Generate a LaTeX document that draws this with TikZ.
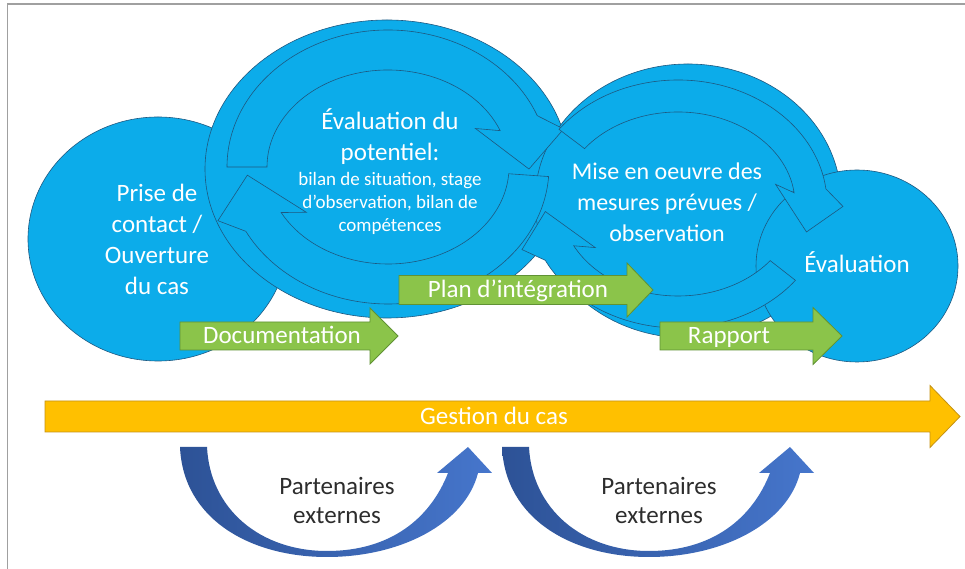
\documentclass[tikz,border=0pt]{standalone}
\usepackage{fontspec}
\setmainfont{Carlito}
\usetikzlibrary{calc}

\definecolor{cyanfill}{RGB}{12,172,234}
\definecolor{cyanline}{RGB}{30,88,128}
\definecolor{leaf}{RGB}{139,196,74}
\definecolor{leafline}{RGB}{96,146,52}
\definecolor{amber}{RGB}{255,192,0}
\definecolor{amberline}{RGB}{196,146,20}
\definecolor{navyA}{RGB}{45,82,150}
\definecolor{navyB}{RGB}{70,118,204}
\definecolor{framegray}{RGB}{160,160,160}
\definecolor{inkgray}{RGB}{45,45,45}

% ring arrow: cx, cy, rx, ry, half width, start angle, head base angle, tip angle, head skew
\newcommand{\ringarrow}[9]{%
  \pgfmathsetmacro\rxo{#3+#5}\pgfmathsetmacro\ryo{#4+#5}
  \pgfmathsetmacro\rxi{#3-#5}\pgfmathsetmacro\ryi{#4-#5}
  \filldraw[ringfill] ({#1+\rxo*cos(#6)},{#2+\ryo*sin(#6)})
    arc[start angle=#6, end angle=#7, x radius=\rxo, y radius=\ryo]
    -- ({#1+(#3+2*#5)*cos(#7-#9)},{#2+(#4+2*#5)*sin(#7-#9)})
    -- ({#1+#3*cos(#8)},{#2+#4*sin(#8)})
    -- ({#1+(#3-2*#5)*cos(#7+#9)},{#2+(#4-2*#5)*sin(#7+#9)})
    -- ({#1+\rxi*cos(#7)},{#2+\ryi*sin(#7)})
    arc[start angle=#7, end angle=#6, x radius=\rxi, y radius=\ryi] -- cycle;}

% block arrow: style, left x, head x, tip x, centre y, half shaft, half head
\newcommand{\blockarrow}[7]{%
  \filldraw[#1] (#2,#5-#6) -- (#3,#5-#6) -- (#3,#5-#7) -- (#4,#5)
    -- (#3,#5+#7) -- (#3,#5+#6) -- (#2,#5+#6) -- cycle;}

% U shaped arrow under the bar, shifted by its tail x
\newcommand{\uarrow}[1]{%
  \shade[left color=navyA, right color=navyB, shift={(#1,0)}]
    (0,122) .. controls (3,50) and (70,12) .. (147,12)
    .. controls (220,12) and (285,45) .. (298,96) -- (312,96) -- (288,122)
    -- (257,96) -- (268,96) .. controls (250,50) and (210,18) .. (147,18)
    .. controls (80,18) and (30,60) .. (27,122) -- cycle;}

\tikzset{
  bubble/.style={fill=cyanfill, draw=cyanline, line width=0.6pt},
  ringfill/.style={fill=cyanfill, draw=cyanline, line width=0.6pt},
  leafarrow/.style={fill=leaf, draw=leafline, line width=0.8pt},
  amberarrow/.style={fill=amber, draw=amberline, line width=0.8pt},
  wlabel/.style={text=white, align=center, inner sep=0pt, font=\fontsize{25}{31}\selectfont},
  wsmall/.style={text=white, align=center, inner sep=0pt, font=\fontsize{19}{23}\selectfont},
  dlabel/.style={text=inkgray, align=center, inner sep=0pt, font=\fontsize{25}{29}\selectfont}
}

\begin{document}
\begin{tikzpicture}[x=1pt, y=1pt]
    \useasboundingbox (0,0) rectangle (965,569);
    \fill[white] (0,0) rectangle (965,569);
    \draw[framegray, line width=1.5pt] (7.5,0) -- (7.5,565) -- (965,565);

    % Bubbles
    \filldraw[bubble] (158,330) ellipse [x radius=130, y radius=122];
    \filldraw[bubble] (387,400) ellipse [x radius=182, y radius=149];
    \filldraw[bubble] (688,368) ellipse [x radius=153, y radius=137];
    \filldraw[bubble] (857,303) ellipse [x radius=101, y radius=96];

    % Cycles inside the bubbles
    \ringarrow{388}{402}{141}{117}{20}{180}{22}{-1}{8}
    \ringarrow{388}{402}{141}{117}{20}{-4}{-152}{-176}{8}
    \ringarrow{678}{365}{133}{108}{16}{143}{7}{-15}{8}
    \ringarrow{678}{365}{133}{108}{16}{-38}{-153}{-176}{8}

    % Texts of the bubbles
    \node[wlabel] (contact) at (157,330) {Prise de\\contact /\\Ouverture\\du cas};
    \node[wlabel] (evaltitle) at (390,432) {Évaluation du\\potentiel:};
    \node[wsmall] (evaldetail) at (390,366) {bilan de situation, stage\\d’observation, bilan de\\compétences};
    \node[wlabel, font=\fontsize{24}{31}\selectfont] (mise) at (667,367) {Mise en oeuvre des\\mesures prévues /\\observation};
    \node[wlabel] (evaluation) at (857,307) {Évaluation};

    % Green arrows
    \blockarrow{leafarrow}{180}{370}{398}{233}{14}{28}
    \blockarrow{leafarrow}{399}{627}{653}{279}{14.5}{27}
    \blockarrow{leafarrow}{660}{813}{842}{233}{14}{28.5}
    \node[wlabel, anchor=base] (docu) at (282,225) {Documentation};
    \node[wlabel, anchor=base] (plan) at (518,271) {Plan d’intégration};
    \node[wlabel, anchor=base] (rapport) at (729,225) {Rapport};

    % Case management bar
    \blockarrow{amberarrow}{45}{930}{960}{152.5}{15.5}{31}
    \node[wlabel, anchor=base, font=\fontsize{25}{30}\selectfont] (gestion) at (494,144) {Gestion du cas};

    % External partners
    \uarrow{180}
    \uarrow{502}
    \node[dlabel] (partA) at (337,69) {Partenaires\\externes};
    \node[dlabel] (partB) at (659,69) {Partenaires\\externes};
\end{tikzpicture}
\end{document}
